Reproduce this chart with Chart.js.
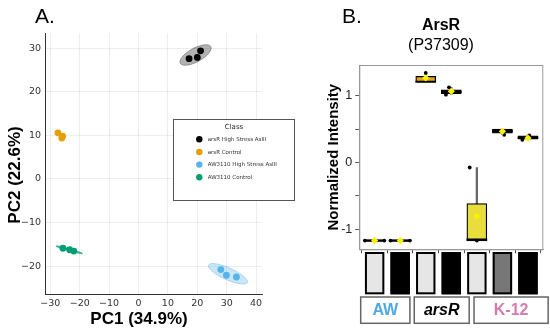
<!DOCTYPE html>
<html><head><meta charset="utf-8">
<script src="https://cdn.jsdelivr.net/npm/chart.js@4.4.1/dist/chart.umd.min.js"></script>
<style>
html,body{margin:0;padding:0;background:#fff;}
#wrap{position:relative;width:550px;height:335px;overflow:hidden;background:#fff;}
.pane{position:absolute;top:0;}
</style></head><body>
<div id="wrap">
<div class="pane" style="left:0;width:300px;height:335px"><canvas id="ca" width="300" height="335"></canvas></div>
<div class="pane" style="left:300px;width:250px;height:335px"><canvas id="cb" width="250" height="335"></canvas></div>
</div>
<script>
// ---------- Panel A data (PCA scores) ----------
const classLabels = ["arsR High Stress AsIII", "arsR Control", "AW3110 High Stress AsIII", "AW3110 Control"];
const arsRStressPC1 = [17.2, 20.0, 21.1];
const arsRStressPC2 = [27.6, 27.9, 29.4];
const arsRControlPC1 = [-27.4, -26.1, -25.8];
const arsRControlPC2 = [10.6, 9.4, 9.8];
const awStressPC1 = [28.0, 29.9, 33.3];
const awStressPC2 = [-20.8, -22.1, -22.5];
const awControlPC1 = [-25.7, -23.4, -22.0];
const awControlPC2 = [-15.9, -16.25, -16.55];
// confidence ellipses: centre and half-axis vectors (data units)
const ellipseCX = [19.4, null, 30.4, -23.6];
const ellipseCY = [28.45, null, -21.76, -16.25];
const ellipseAX = [5.2, null, 6.6, 4.5];
const ellipseAY = [1.9, null, -1.99, -0.85];
const ellipseBX = [1.1, null, -0.8, -0.1];
const ellipseBY = [-1.4, null, -1.25, -0.2];
const pc1Ticks = [-30, -20, -10, 0, 10, 20, 30, 40];
const pc2Ticks = [-20, -10, 0, 10, 20, 30];

// ---------- Panel B data (ArsR box plot) ----------
const conditions = [1, 2, 3, 4, 5, 6, 7];
const boxQ1 = [-1.18, -1.18, 1.205, 1.03, -1.175, 0.44, 0.35];
const boxQ3 = [-1.16, -1.16, 1.29, 1.09, -0.615, 0.50, 0.40];
const boxMedian = [-1.17, -1.17, 1.21, 1.06, -1.155, 0.47, 0.37];
const whiskerLow = [-1.17, -1.17, 1.205, 1.015, -1.175, 0.415, 0.34];
const whiskerHigh = [-1.17, -1.17, 1.29, 1.126, -0.075, 0.50, 0.406];
const means = [-1.17, -1.17, 1.265, 1.066, -0.805, 0.466, 0.366];
const pointX = [0.62, 1.38, 1.62, 2.38, 3.0, 3.79, 3.91, 4.72, 5.0, 6.07, 6.78, 7.05];
const pointY = [-1.17, -1.17, -1.17, -1.17, 1.34, 1.015, 1.126, -0.075, -1.17, 0.415, 0.34, 0.406];
const groupNames = ["AW", "arsR", "K-12"];
const intensityTicks = [-1, 0, 1];

// ---------- styles ----------
const classColors = ["#000000", "#e69f00", "#56b4e9", "#009e73"];
const ellipseFill = ["rgba(0,0,0,0.3)", null, "rgba(86,180,233,0.32)", "rgba(0,158,115,0.5)"];
const ellipseStroke = ["rgba(0,0,0,0.3)", null, "rgba(86,180,233,0.45)", "rgba(0,158,115,0.9)"];
const boxFill = ["#000000", "#000000", "#e6a21c", "#3a3a3a", "#e9dc3d", "#3d3a38", "#3a3a3a"];
const squareFill = ["#e6e6e6", "#000000", "#e6e6e6", "#000000", "#e6e6e6", "#777777", "#000000"];
const groupColors = ["#4fa8e3", "#000000", "#d47daf"];
const groupItalic = [false, true, false];
const groupSpanStart = [0.455, 2.55, 4.89];
const groupSpanEnd = [2.38, 4.70, 7.79];

Chart.defaults.font.family = "'Liberation Sans', Arial, sans-serif";
Chart.defaults.animation = false;

const fmtMinus = v => (v < 0 ? "\u2212" + Math.abs(v) : String(v));

// ---------- Panel A ----------
const pcaSets = [
  [arsRStressPC1, arsRStressPC2],
  [arsRControlPC1, arsRControlPC2],
  [awStressPC1, awStressPC2],
  [awControlPC1, awControlPC2]
];

const ellipsePlugin = {
  id: "ellipses",
  beforeDatasetsDraw(chart) {
    const {ctx, chartArea: a, scales: {x, y}} = chart;
    ctx.save();
    ctx.beginPath(); ctx.rect(a.left, a.top, a.right - a.left, a.bottom - a.top); ctx.clip();
    for (let k = 0; k < ellipseCX.length; k++) {
      if (ellipseCX[k] === null) continue;
      ctx.beginPath();
      for (let s = 0; s <= 90; s++) {
        const t = s / 90 * Math.PI * 2;
        const dx = ellipseCX[k] + Math.cos(t) * ellipseAX[k] + Math.sin(t) * ellipseBX[k];
        const dy = ellipseCY[k] + Math.cos(t) * ellipseAY[k] + Math.sin(t) * ellipseBY[k];
        const px = x.getPixelForValue(dx), py = y.getPixelForValue(dy);
        if (s === 0) ctx.moveTo(px, py); else ctx.lineTo(px, py);
      }
      ctx.closePath();
      ctx.fillStyle = ellipseFill[k]; ctx.fill();
      ctx.lineWidth = 1; ctx.strokeStyle = ellipseStroke[k]; ctx.stroke();
    }
    ctx.restore();
  }
};

const decorA = {
  id: "decorA",
  afterDraw(chart) {
    const ctx = chart.ctx;
    ctx.save();
    ctx.fillStyle = "#000";
    ctx.textBaseline = "middle"; ctx.textAlign = "center";
    ctx.font = "21px 'Liberation Sans', Arial, sans-serif";
    ctx.fillText("A.", 45, 17);
    ctx.font = "bold 17px 'Liberation Sans', Arial, sans-serif";
    ctx.fillText("PC1 (34.9%)", 139, 319);
    ctx.save();
    ctx.translate(15, 175); ctx.rotate(-Math.PI / 2);
    ctx.fillText("PC2 (22.6%)", 0, 0);
    ctx.restore();
    // legend box
    ctx.fillStyle = "#fff";
    ctx.fillRect(173.5, 119.5, 121, 81);
    ctx.strokeStyle = "#555"; ctx.lineWidth = 1;
    ctx.strokeRect(173.5, 119.5, 121, 81);
    ctx.fillStyle = "#222";
    ctx.font = "7px 'DejaVu Sans', sans-serif";
    ctx.fillText("Class", 234, 127);
    ctx.textAlign = "left";
    ctx.font = "5.5px 'DejaVu Sans', sans-serif";
    for (let k = 0; k < classLabels.length; k++) {
      const yy = 139.3 + k * 12.65;
      ctx.beginPath(); ctx.arc(199.3, yy, 3.2, 0, Math.PI * 2);
      ctx.fillStyle = classColors[k]; ctx.fill();
      ctx.fillStyle = "#333";
      ctx.fillText(classLabels[k], 207.7, yy + 0.3);
    }
    ctx.restore();
  }
};

new Chart(document.getElementById("ca"), {
  type: "scatter",
  data: {
    datasets: pcaSets.map((s, k) => ({
      label: classLabels[k],
      data: s[0].map((v, i) => ({x: v, y: s[1][i]})),
      backgroundColor: classColors[k],
      borderColor: classColors[k],
      pointRadius: 3.4,
      borderWidth: 0
    }))
  },
  options: {
    responsive: false,
    layout: {padding: {left: 0, right: 38, top: 33, bottom: 0}},
    plugins: {legend: {display: false}, tooltip: {enabled: false}},
    scales: {
      x: {
        type: "linear", min: -31.8, max: 42,
        afterBuildTicks: s => { s.ticks = pc1Ticks.map(v => ({value: v})); },
        ticks: {font: {family: "'DejaVu Sans', sans-serif", size: 9.5}, color: "#333", padding: 4, maxRotation: 0, callback: v => fmtMinus(v)},
        grid: {color: "rgba(0,0,0,0.07)", drawTicks: false},
        border: {color: "#333", width: 1},
        afterFit: s => { s.height = 41; }
      },
      y: {
        type: "linear", min: -26.4, max: 33.5,
        afterBuildTicks: s => { s.ticks = pc2Ticks.map(v => ({value: v})); },
        ticks: {font: {family: "'DejaVu Sans', sans-serif", size: 9.5}, color: "#333", padding: 4, callback: v => fmtMinus(v)},
        grid: {color: "rgba(0,0,0,0.07)", drawTicks: false},
        border: {color: "#333", width: 1},
        afterFit: s => { s.width = 45; }
      }
    }
  },
  plugins: [ellipsePlugin, decorA]
});

// ---------- Panel B ----------
const decorB = {
  id: "decorB",
  beforeDatasetsDraw(chart) {
    const {ctx, chartArea: a} = chart;
    ctx.save();
    ctx.strokeStyle = "#999"; ctx.lineWidth = 1;
    ctx.strokeRect(a.left + 0.5, a.top + 0.5, a.right - a.left - 1, a.bottom - a.top);
    ctx.restore();
  },
  afterDraw(chart) {
    const {ctx, scales: {x}} = chart;
    ctx.save();
    ctx.fillStyle = "#000"; ctx.textAlign = "center"; ctx.textBaseline = "middle";
    ctx.font = "21px 'Liberation Sans', Arial, sans-serif";
    ctx.fillText("B.", 52, 17);
    ctx.font = "bold 16px 'Liberation Sans', Arial, sans-serif";
    ctx.fillText("ArsR", 141, 26);
    ctx.font = "16px 'Liberation Sans', Arial, sans-serif";
    ctx.fillText("(P37309)", 141, 46);
    // condition squares
    for (let i = 0; i < conditions.length; i++) {
      const cx = x.getPixelForValue(conditions[i]);
      ctx.fillStyle = squareFill[i];
      ctx.fillRect(cx - 9.7, 252, 19.4, 42.3);
      ctx.strokeStyle = "#000"; ctx.lineWidth = 2;
      ctx.strokeRect(cx - 8.7, 253, 17.4, 40.3);
    }
    // group boxes
    for (let g = 0; g < groupNames.length; g++) {
      const l = x.getPixelForValue(groupSpanStart[g]);
      const r = x.getPixelForValue(groupSpanEnd[g]);
      ctx.strokeStyle = "#666"; ctx.lineWidth = 1.5;
      ctx.strokeRect(l, 297, r - l, 26.3);
      ctx.fillStyle = groupColors[g];
      ctx.font = (groupItalic[g] ? "italic " : "") + "bold 16px 'Liberation Sans', Arial, sans-serif";
      ctx.fillText(groupNames[g], (l + r) / 2, 311);
    }
    ctx.restore();
  }
};

new Chart(document.getElementById("cb"), {
  type: "bar",
  data: {
    datasets: [
      {
        type: "scatter", order: 0,
        data: conditions.map((c, i) => ({x: c, y: means[i]})),
        pointStyle: "rectRot", pointRadius: 3.6, backgroundColor: "#f7f300", borderWidth: 0
      },
      {
        type: "scatter", order: 1,
        data: pointX.map((v, i) => ({x: v, y: pointY[i]})),
        pointRadius: 1.9, backgroundColor: "#000", borderWidth: 0
      },
      {
        type: "bar", order: 2, grouped: false,
        data: conditions.map((c, i) => ({x: c, y: [boxMedian[i] - 0.011, boxMedian[i] + 0.011]})),
        backgroundColor: "#000", borderWidth: 0, barThickness: 20
      },
      {
        type: "bar", order: 3, grouped: false,
        data: conditions.map((c, i) => ({x: c, y: [boxQ1[i], boxQ3[i]]})),
        backgroundColor: boxFill, borderColor: "#000", borderWidth: 1.3, borderSkipped: false, barThickness: 20
      },
      {
        type: "bar", order: 4, grouped: false,
        data: conditions.map((c, i) => ({x: c, y: [whiskerLow[i], whiskerHigh[i]]})),
        backgroundColor: "#666", borderWidth: 0, barThickness: 1.6
      }
    ]
  },
  options: {
    responsive: false,
    layout: {padding: {left: 0, right: 6.7, top: 65, bottom: 0}},
    plugins: {legend: {display: false}, tooltip: {enabled: false}},
    scales: {
      x: {
        type: "linear", min: 0.4, max: 7.6, offset: false,
        afterBuildTicks: s => { s.ticks = conditions.map(v => ({value: v})); },
        ticks: {display: true, callback: () => ""},
        grid: {drawOnChartArea: false, drawTicks: true, tickLength: 4, color: "#555"},
        border: {color: "#999"},
        afterFit: s => { s.height = 85.7; }
      },
      y: {
        type: "linear", min: -1.3, max: 1.46,
        afterBuildTicks: s => { s.ticks = [-1, -0.5, 0, 0.5, 1].map(v => ({value: v})); },
        ticks: {font: {size: 12.5}, color: "#222", padding: 3,
          callback: v => (intensityTicks.includes(v) ? String(v) : "")},
        grid: {drawOnChartArea: false, drawTicks: true, tickLength: 4, color: "#555"},
        border: {color: "#999"},
        title: {display: true, text: "Normalized Intensity", color: "#000",
          font: {size: 15, weight: "bold"}, padding: {top: 25, bottom: 0}},
        afterFit: s => { s.width = 59.3; }
      }
    }
  },
  plugins: [decorB]
});
</script>
</body></html>
